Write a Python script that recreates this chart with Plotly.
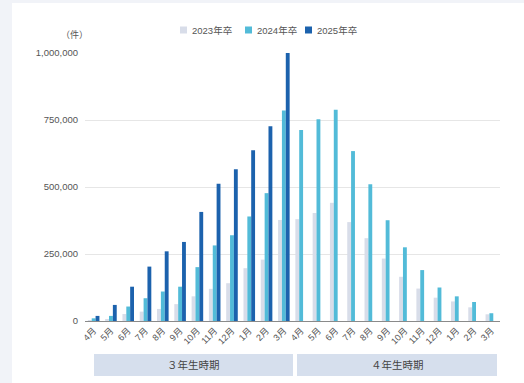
import plotly.graph_objects as go

months = ["4月", "5月", "6月", "7月", "8月", "9月", "10月", "11月", "12月", "1月", "2月", "3月",
          "4月", "5月", "6月", "7月", "8月", "9月", "10月", "11月", "12月", "1月", "2月", "3月"]
series_names = ["2023年卒", "2024年卒", "2025年卒"]
y2023 = [3000, 6000, 26000, 35000, 45000, 63000, 92000, 120000, 141000, 197000, 229000, 377000,
         380000, 403000, 441000, 369000, 309000, 233000, 165000, 121000, 87000, 73000, 51000, 25000]
y2024 = [10000, 19000, 54000, 85000, 110000, 128000, 201000, 282000, 320000, 390000, 477000, 785000,
         713000, 753000, 788000, 634000, 510000, 376000, 275000, 190000, 125000, 92000, 71000, 29000]
y2025 = [19000, 60000, 128000, 203000, 260000, 295000, 407000, 512000, 566000, 637000, 727000, 1003000,
         None, None, None, None, None, None, None, None, None, None, None, None]
periods = ["３年生時期", "４年生時期"]
y_ticks = [0, 250000, 500000, 750000, 1000000]
y_tick_text = ["0", "250,000", "500,000", "750,000", "1,000,000"]

colors = ["#d8dde9", "#52bbd8", "#1c62ad"]
xs = list(range(len(months)))

fig = go.Figure()
for name, vals, col in zip(series_names, [y2023, y2024, y2025], colors):
    fig.add_trace(go.Bar(x=xs, y=vals, name=name, showlegend=False,
                         marker=dict(color=col, line=dict(width=0))))

W, H = 524, 383
L, R, T, B = 85, 24, 53, 62
pw, ph = W - L - R, H - T - B

def px_x(p):
    return (p - L) / pw

def px_y(p):
    return (H - B - p) / ph

shapes = [
    dict(type="rect", xref="paper", yref="paper", x0=px_x(0), x1=px_x(12), y0=px_y(383), y1=px_y(0),
         fillcolor="#f1f3f8", line=dict(width=0), layer="below"),
    dict(type="rect", xref="paper", yref="paper", x0=px_x(0), x1=px_x(524), y0=px_y(3), y1=px_y(0),
         fillcolor="#f1f3f8", line=dict(width=0), layer="below"),
]
annotations = [
    dict(text="（件）", xref="paper", yref="paper", x=px_x(74), y=px_y(35), showarrow=False,
         font=dict(size=9, color="#555"), xanchor="center", yanchor="middle"),
]

# custom compact legend
legend_x = [180, 245, 305]
for lx, name, col in zip(legend_x, series_names, colors):
    shapes.append(dict(type="rect", xref="paper", yref="paper", x0=px_x(lx), x1=px_x(lx + 7),
                       y0=px_y(33.5), y1=px_y(26.5), fillcolor=col, line=dict(width=0)))
    annotations.append(dict(text=name, xref="paper", yref="paper", x=px_x(lx + 10), y=px_y(30),
                            showarrow=False, font=dict(size=9.5, color="#555"),
                            xanchor="left", yanchor="middle"))

boxes = [(94, 293), (297, 497)]
for (x0, x1), label in zip(boxes, periods):
    shapes.append(dict(type="rect", xref="paper", yref="paper", x0=px_x(x0), x1=px_x(x1),
                       y0=px_y(376), y1=px_y(354), fillcolor="#d6dfed", line=dict(width=0)))
    annotations.append(dict(text=label, xref="paper", yref="paper", x=px_x((x0 + x1) / 2), y=px_y(365),
                            showarrow=False, font=dict(size=10.5, color="#444"),
                            xanchor="center", yanchor="middle"))

fig.update_layout(
    width=W, height=H,
    margin=dict(l=L, r=R, t=T, b=B),
    paper_bgcolor="white", plot_bgcolor="white",
    font=dict(family="Liberation Sans, Noto Sans CJK JP, sans-serif", color="#555", size=9.5),
    barmode="group", bargap=0.33, bargroupgap=0,
    showlegend=False,
    xaxis=dict(tickmode="array", tickvals=xs, ticktext=months, tickangle=-45,
               range=[-0.5, len(months) - 0.5], showgrid=False, showline=True,
               linecolor="#8a8a8a", linewidth=1, ticks="", tickfont=dict(size=9, color="#555")),
    yaxis=dict(range=[0, 1000000], tickvals=y_ticks, ticktext=y_tick_text, showgrid=True,
               gridcolor="#e6e6e6", gridwidth=1, zeroline=False, showline=False, ticks="",
               tickfont=dict(size=9.5, color="#555"), ticklabelstandoff=6),
    shapes=shapes, annotations=annotations,
)

fig.write_html("out.html")
